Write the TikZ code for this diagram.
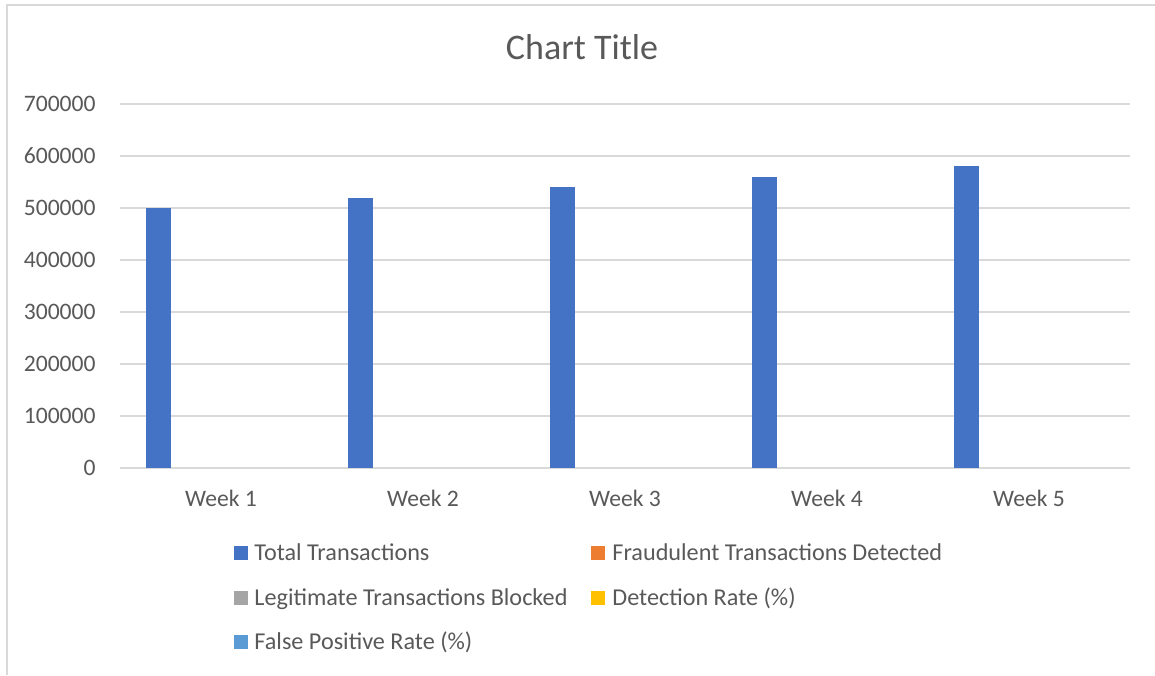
\documentclass[tikz,border=0pt]{standalone}
\usepackage{fontspec}
\setmainfont{Carlito}
\definecolor{txt}{HTML}{595959}
\definecolor{grid}{HTML}{D9D9D9}
\definecolor{sBlue}{HTML}{4472C4}
\definecolor{sOrange}{HTML}{ED7D31}
\definecolor{sGray}{HTML}{A5A5A5}
\definecolor{sYellow}{HTML}{FFC000}
\definecolor{sLight}{HTML}{5B9BD5}
\tikzset{
  gridline/.style={draw=grid, line width=1pt},
  frameline/.style={draw=grid, line width=1.2pt},
  bar/.style={fill=sBlue, draw=none},
  lbl/.style={text=txt, font=\fontsize{11.8pt}{14pt}\selectfont, inner sep=0pt},
  leg/.style={text=txt, font=\fontsize{12.1pt}{14pt}\selectfont, inner sep=0pt},
  ttl/.style={text=txt, font=\fontsize{18pt}{21pt}\selectfont, inner sep=0pt},
  marker/.style={draw=none, minimum size=7pt, inner sep=0pt},
}
\begin{document}
\begin{tikzpicture}[x=0.5pt, y=-0.5pt]
\useasboundingbox (0,0) rectangle (1155,675);
\fill[white] (0,0) rectangle (1155,675);
% frame (top and left edges visible)
\draw[frameline] (7,675) -- (7,5) -- (1155,5);
% title
\node[ttl, anchor=base] (title) at (582,59) {Chart Title};
% gridlines and y labels
\foreach \v/\n in {0/0,1/100000,2/200000,3/300000,4/400000,5/500000,6/600000,7/700000}{
  \draw[gridline] (120,468-52*\v) -- (1130,468-52*\v);
  \node[lbl, anchor=base east] (y\v) at (96,475.5-52*\v) {\n};
}
% bars (values in units of 10000) and category labels
\foreach \i/\val in {0/50,1/52,2/54,3/56,4/58}{
  \pgfmathsetmacro{\xl}{120+202*\i+26}
  \pgfmathsetmacro{\ytop}{468-\val*5.2}
  \fill[bar] (\xl,468) rectangle (\xl+25,\ytop);
  \pgfmathtruncatemacro{\wk}{\i+1}
  \node[lbl, anchor=base] (w\wk) at (221+202*\i,506.5) {Week \wk};
}
% legend
\node[marker, fill=sBlue] (m1) at (240.5,553) {};
\node[leg, anchor=base west] (l1) at (254,560) {Total Transactions};
\node[marker, fill=sOrange] (m2) at (598,553) {};
\node[leg, anchor=base west] (l2) at (612,560) {Fraudulent Transactions Detected};
\node[marker, fill=sGray] (m3) at (240.5,598) {};
\node[leg, anchor=base west] (l3) at (254,605) {Legitimate Transactions Blocked};
\node[marker, fill=sYellow] (m4) at (598,598) {};
\node[leg, anchor=base west] (l4) at (612,605) {Detection Rate (\%)};
\node[marker, fill=sLight] (m5) at (240.5,642) {};
\node[leg, anchor=base west] (l5) at (254,649) {False Positive Rate (\%)};
\end{tikzpicture}
\end{document}
